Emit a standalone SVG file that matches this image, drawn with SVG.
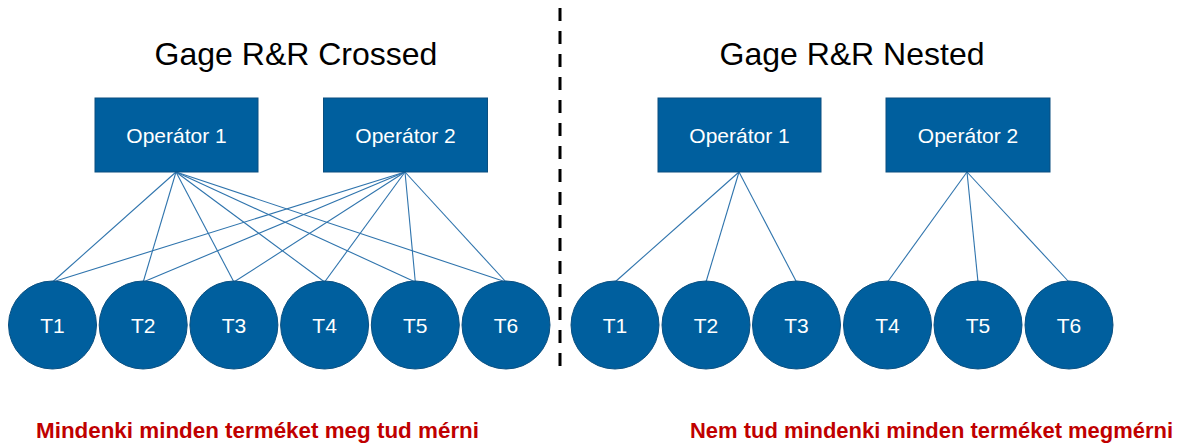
<svg xmlns="http://www.w3.org/2000/svg" width="1180" height="445" viewBox="0 0 1180 445">
<style>
.title{font-family:"Liberation Sans",Arial,sans-serif;font-size:32px;fill:#000;text-anchor:middle}
.box{fill:#005f9e;stroke:#0a4f80;stroke-width:1}
.circ{fill:#005f9e;stroke:#0a4f80;stroke-width:1}
.lbl{font-family:"Liberation Sans",Arial,sans-serif;font-size:21px;fill:#fff;text-anchor:middle}
.conn line{stroke:#2f74ad;stroke-width:1.1}
.note{font-family:"Liberation Sans",Arial,sans-serif;font-size:22px;font-weight:bold;fill:#c00000}
</style>
<rect width="1180" height="445" fill="#fff"/>
<line x1="560" y1="8" x2="560" y2="366" stroke="#000" stroke-width="3" stroke-dasharray="13,10"/>
<text class="title" x="296" y="65">Gage R&amp;R Crossed</text>
<text class="title" x="852" y="65">Gage R&amp;R Nested</text>
<g class="conn" id="connectors">
<line x1="176" y1="172" x2="52.5" y2="282"/>
<line x1="176" y1="172" x2="143.2" y2="282"/>
<line x1="176" y1="172" x2="233.9" y2="282"/>
<line x1="176" y1="172" x2="324.6" y2="282"/>
<line x1="176" y1="172" x2="415.3" y2="282"/>
<line x1="176" y1="172" x2="506" y2="282"/>
<line x1="405" y1="172" x2="52.5" y2="282"/>
<line x1="405" y1="172" x2="143.2" y2="282"/>
<line x1="405" y1="172" x2="233.9" y2="282"/>
<line x1="405" y1="172" x2="324.6" y2="282"/>
<line x1="405" y1="172" x2="415.3" y2="282"/>
<line x1="405" y1="172" x2="506" y2="282"/>
<line x1="739" y1="172" x2="615" y2="282"/>
<line x1="739" y1="172" x2="706" y2="282"/>
<line x1="739" y1="172" x2="796.5" y2="282"/>
<line x1="967" y1="172" x2="887.5" y2="282"/>
<line x1="967" y1="172" x2="978" y2="282"/>
<line x1="967" y1="172" x2="1069" y2="282"/>
</g>
<g id="c-op1"><rect class="box" x="95" y="98" width="163" height="74"/><text class="lbl" x="176.5" y="143">Operátor 1</text></g>
<g id="c-op2"><rect class="box" x="323.5" y="98" width="164" height="74"/><text class="lbl" x="405.5" y="143">Operátor 2</text></g>
<g id="c-t1"><circle class="circ" cx="52.5" cy="325" r="44"/><text class="lbl" x="52.5" y="333">T1</text></g>
<g id="c-t2"><circle class="circ" cx="143.2" cy="325" r="44"/><text class="lbl" x="143.2" y="333">T2</text></g>
<g id="c-t3"><circle class="circ" cx="233.9" cy="325" r="44"/><text class="lbl" x="233.9" y="333">T3</text></g>
<g id="c-t4"><circle class="circ" cx="324.6" cy="325" r="44"/><text class="lbl" x="324.6" y="333">T4</text></g>
<g id="c-t5"><circle class="circ" cx="415.3" cy="325" r="44"/><text class="lbl" x="415.3" y="333">T5</text></g>
<g id="c-t6"><circle class="circ" cx="506" cy="325" r="44"/><text class="lbl" x="506" y="333">T6</text></g>
<g id="n-op1"><rect class="box" x="658" y="98" width="163" height="74"/><text class="lbl" x="739.5" y="143">Operátor 1</text></g>
<g id="n-op2"><rect class="box" x="886" y="98" width="164" height="74"/><text class="lbl" x="968" y="143">Operátor 2</text></g>
<g id="n-t1"><circle class="circ" cx="615" cy="325" r="44"/><text class="lbl" x="615" y="333">T1</text></g>
<g id="n-t2"><circle class="circ" cx="706" cy="325" r="44"/><text class="lbl" x="706" y="333">T2</text></g>
<g id="n-t3"><circle class="circ" cx="796.5" cy="325" r="44"/><text class="lbl" x="796.5" y="333">T3</text></g>
<g id="n-t4"><circle class="circ" cx="887.5" cy="325" r="44"/><text class="lbl" x="887.5" y="333">T4</text></g>
<g id="n-t5"><circle class="circ" cx="978" cy="325" r="44"/><text class="lbl" x="978" y="333">T5</text></g>
<g id="n-t6"><circle class="circ" cx="1069" cy="325" r="44"/><text class="lbl" x="1069" y="333">T6</text></g>
<text class="note" x="36" y="438" textLength="443" lengthAdjust="spacingAndGlyphs">Mindenki minden terméket meg tud mérni</text>
<text class="note" x="690" y="438" textLength="483" lengthAdjust="spacingAndGlyphs">Nem tud mindenki minden terméket megmérni</text>
</svg>
